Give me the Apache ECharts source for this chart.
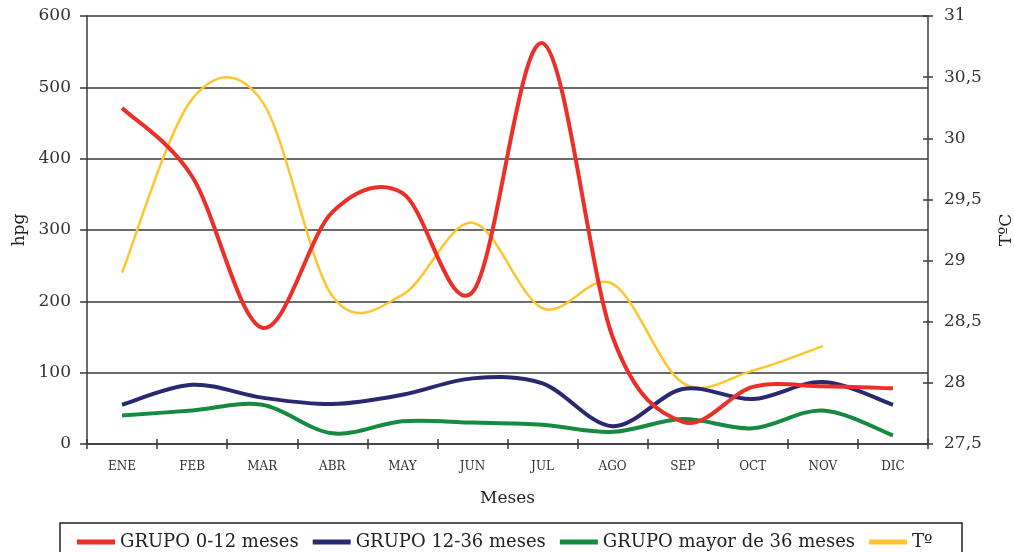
<!DOCTYPE html>
<html>
<head>
<meta charset="utf-8">
<script src="https://cdn.jsdelivr.net/npm/echarts@6/dist/echarts.min.js"></script>
<style>
html,body{margin:0;padding:0;background:#fff;}
#chart{width:1014px;height:552px;}
</style>
</head>
<body>
<div id="chart"></div>
<script>
const months = ['ENE','FEB','MAR','ABR','MAY','JUN','JUL','AGO','SEP','OCT','NOV','DIC'];
const grupo0_12 = [471, 375, 163, 325, 352, 213, 562, 150, 31, 80, 81, 78];
const grupo12_36 = [55, 83, 65, 56, 69, 92, 85, 25, 77, 63, 87, 55];
const grupoMayor36 = [40, 47, 55, 15, 32, 30, 27, 17, 35, 22, 47, 12];
const temperatura = [28.9, 30.32, 30.3, 28.71, 28.72, 29.31, 28.61, 28.81, 28.0, 28.1, 28.3, null];
const leftTicks = {min: 0, max: 600, interval: 100};
const rightTicks = {min: 27.5, max: 31, interval: 0.5};

const FONT = 'DejaVu Serif';
const AX = '#3a3a3a';

// Smoothed line (Catmull-Rom, like the spreadsheet's "smoothed line") drawn
// through points placed by the chart's own axes (api.coord).
function splineSeries(name, values, color, width, yAxisIndex, z) {
  return {
    name: name, type: 'custom', yAxisIndex: yAxisIndex, z: z, clip: false,
    itemStyle: {color: color},
    data: [[0, values.find(v => v != null)]],
    renderItem: function (params, api) {
      const segs = [];
      let cur = [];
      values.forEach((v, i) => {
        if (v == null) { if (cur.length) segs.push(cur); cur = []; }
        else cur.push(api.coord([i, v]));
      });
      if (cur.length) segs.push(cur);
      let d = '';
      segs.forEach(p => {
        d += 'M' + p[0][0] + ' ' + p[0][1];
        for (let i = 0; i < p.length - 1; i++) {
          const p0 = p[i - 1] || p[i], p1 = p[i], p2 = p[i + 1], p3 = p[i + 2] || p[i + 1];
          const c1x = p1[0] + (p2[0] - p0[0]) / 6, c1y = p1[1] + (p2[1] - p0[1]) / 6;
          const c2x = p2[0] - (p3[0] - p1[0]) / 6, c2y = p2[1] - (p3[1] - p1[1]) / 6;
          d += 'C' + c1x + ' ' + c1y + ' ' + c2x + ' ' + c2y + ' ' + p2[0] + ' ' + p2[1];
        }
      });
      return {
        type: 'path', shape: {pathData: d},
        style: {fill: 'none', stroke: color, lineWidth: width, lineJoin: 'round'}
      };
    }
  };
}

const chart = echarts.init(document.getElementById('chart'));
chart.setOption({
  animation: false,
  textStyle: {fontFamily: FONT},
  grid: {left: 87, right: 86, top: 16, bottom: 108, containLabel: false, outerBoundsMode: 'none'},
  legend: {
    left: 72, top: 528,
    itemWidth: 38, itemHeight: 5, itemGap: 14,
    icon: 'rect',
    textStyle: {fontFamily: FONT, fontSize: 18, color: '#222'},
    data: ['GRUPO 0-12 meses', 'GRUPO 12-36 meses', 'GRUPO mayor de 36 meses', 'Tº']
  },
  graphic: [{
    type: 'rect', silent: true,
    shape: {x: 60, y: 523, width: 902, height: 40},
    style: {fill: 'none', stroke: '#222', lineWidth: 1.5}
  }],
  xAxis: [{
    type: 'category', data: months, boundaryGap: true,
    name: 'Meses', nameLocation: 'middle', nameGap: 46,
    nameTextStyle: {fontFamily: FONT, fontSize: 17, color: '#222'},
    axisLine: {lineStyle: {color: AX, width: 1.5}},
    axisTick: {show: true, inside: true, length: 5, lineStyle: {color: AX, width: 1.5}},
    axisLabel: {fontFamily: FONT, fontSize: 12, color: '#333', margin: 17}
  }, {
    type: 'category', data: months, boundaryGap: true, position: 'bottom',
    axisLine: {show: false},
    axisTick: {show: true, inside: false, length: 5, lineStyle: {color: AX, width: 1.5}},
    axisLabel: {show: false}
  }],
  yAxis: [{
    type: 'value', min: leftTicks.min, max: leftTicks.max, interval: leftTicks.interval,
    name: 'hpg', nameLocation: 'middle', nameGap: 58, nameRotate: 90,
    nameTextStyle: {fontFamily: FONT, fontSize: 17, color: '#222'},
    axisLine: {show: true, lineStyle: {color: AX, width: 1.5}},
    axisTick: {show: true, length: 7, lineStyle: {color: AX, width: 1.5}},
    axisLabel: {fontFamily: FONT, fontSize: 17, color: '#333', margin: 16},
    splitLine: {show: true, lineStyle: {color: AX, width: 1.5}}
  }, {
    type: 'value', position: 'right',
    min: rightTicks.min, max: rightTicks.max, interval: rightTicks.interval,
    name: 'TºC', nameLocation: 'middle', nameGap: 70, nameRotate: 90,
    nameTextStyle: {fontFamily: FONT, fontSize: 17, color: '#222'},
    axisLine: {show: true, lineStyle: {color: AX, width: 1.5}},
    axisTick: {show: true, length: 5, lineStyle: {color: AX, width: 1.5}},
    axisLabel: {fontFamily: FONT, fontSize: 17, color: '#333', margin: 16,
      formatter: v => String(v).replace('.', ',')},
    splitLine: {show: false}
  }, {
    type: 'value', position: 'right',
    min: rightTicks.min, max: rightTicks.max, interval: rightTicks.interval,
    axisLine: {show: false},
    axisTick: {show: true, inside: true, length: 5, lineStyle: {color: AX, width: 1.5}},
    axisLabel: {show: false},
    splitLine: {show: false}
  }],
  series: [
    splineSeries('GRUPO 0-12 meses', grupo0_12, '#ec2f28', 4, 0, 5),
    splineSeries('GRUPO 12-36 meses', grupo12_36, '#2b2872', 4, 0, 4),
    splineSeries('GRUPO mayor de 36 meses', grupoMayor36, '#178a42', 4, 0, 3),
    splineSeries('Tº', temperatura, '#fdc62f', 2.5, 1, 2)
  ]
});
</script>
</body>
</html>
